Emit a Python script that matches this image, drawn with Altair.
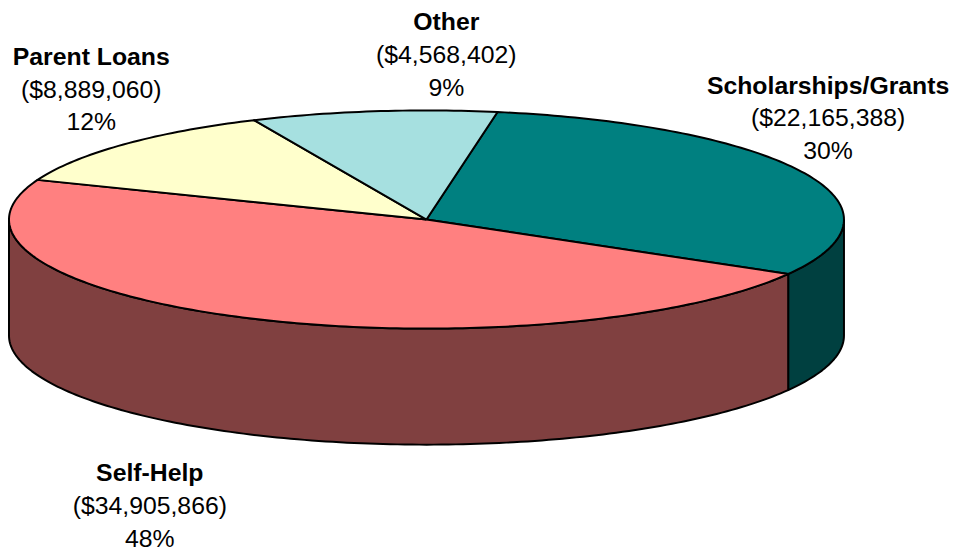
import math
import altair as alt
import pandas as pd

names = ["Scholarships/Grants", "Self-Help", "Parent Loans", "Other"]
amounts = ["($22,165,388)", "($34,905,866)", "($8,889,060)", "($4,568,402)"]
percents = ["30%", "48%", "12%", "9%"]
drawn_shares = [30.6, 47.6, 12.3, 9.5]
top_colors = ["#008080", "#FF8080", "#FFFFCC", "#A6E0E0"]
side_colors = ["#004040", "#804040", None, None]

W, H = 959, 548
CX, CY, RX, RY, DEPTH = 430, 217, 421, 110, 117
START = 9.8
STEP = 1.0
FS = 25
LABELS = {
    "Scholarships/Grants": (835, 82),
    "Self-Help": (151, 473),
    "Parent Loans": (92, 53),
    "Other": (450, 18),
}
LINE = 33

def pt(a, dz=0):
    r = math.radians(a)
    return CX + RX * math.sin(r), CY - RY * math.cos(r) + dz

rows = []
angle = START
total = sum(drawn_shares)
for i, name in enumerate(names):
    sweep = drawn_shares[i] / total * 360
    a0, a1 = angle, angle + sweep
    angle = a1
    n = max(2, int(sweep / STEP))
    arc = [a0 + (a1 - a0) * k / n for k in range(n + 1)]
    # top face
    pts = [(CX, CY)] + [pt(a) for a in arc] + [(CX, CY)]
    for k, (x, y) in enumerate(pts):
        rows.append(dict(id=f"top{i}", layer=1, x=x, y=y, k=k, color=top_colors[i]))
    # visible side wall (front half only)
    if side_colors[i]:
        lo, hi = max(a0, 90), min(a1, 270)
        m = max(2, int((hi - lo) / STEP))
        vis = [lo + (hi - lo) * k / m for k in range(m + 1)]
        pts = [pt(a) for a in vis] + [pt(a, DEPTH) for a in reversed(vis)] + [pt(vis[0])]
        for k, (x, y) in enumerate(pts):
            rows.append(dict(id=f"side{i}", layer=0, x=x, y=y, k=k, color=side_colors[i]))

df = pd.DataFrame(rows)
x_scale = alt.Scale(domain=[8, 8 + W], range=[0, W], nice=False, zero=False)
y_scale = alt.Scale(domain=[8, 8 + H], range=[0, H], nice=False, zero=False)

def faces(layer):
    return (
        alt.Chart(df[df.layer == layer])
        .mark_line(stroke="black", strokeWidth=2, fill="black", strokeJoin="round", clip=False, interpolate="linear")
        .encode(
            x=alt.X("x:Q", scale=x_scale, axis=None),
            y=alt.Y("y:Q", scale=y_scale, axis=None),
            order="k:Q",
            detail="id:N",
            fill=alt.Fill("color:N", scale=None),
        )
    )

label_rows = []
for i, name in enumerate(names):
    lx, ly = LABELS[name]
    for j, t in enumerate([name, amounts[i], percents[i]]):
        label_rows.append(dict(x=lx, y=ly + j * LINE, t=t, bold="bold" if j == 0 else "normal"))
ldf = pd.DataFrame(label_rows)

def text(weight):
    return (
        alt.Chart(ldf[ldf.bold == weight])
        .mark_text(font="Liberation Sans", fontSize=FS, fontWeight=weight, color="black", align="center", baseline="middle")
        .encode(
            x=alt.X("x:Q", scale=x_scale, axis=None),
            y=alt.Y("y:Q", scale=y_scale, axis=None),
            text="t:N",
        )
    )

chart = (
    alt.layer(faces(0), faces(1), text("bold"), text("normal"))
    .properties(width=W, height=H, padding=0, background="white")
    .configure_view(stroke=None)
)
chart.save("out.html", embed_options={"renderer": "svg", "actions": False})
